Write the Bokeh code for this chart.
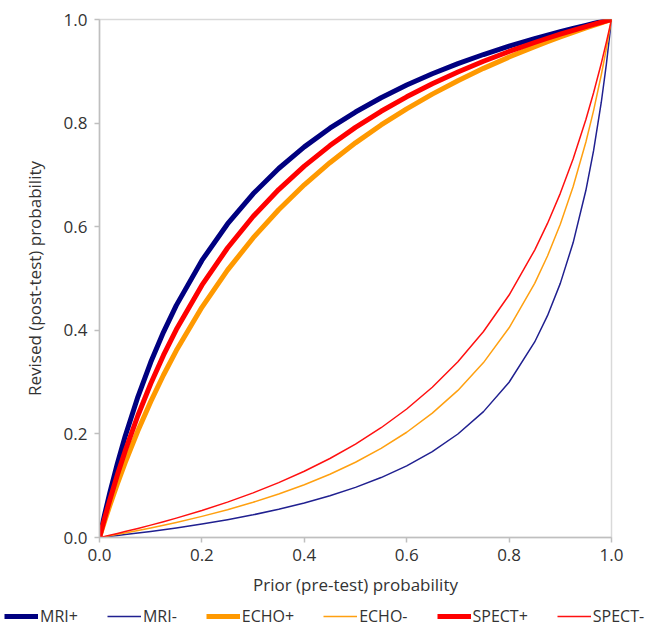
from bokeh.plotting import figure
from bokeh.layouts import column, row
from bokeh.models import Legend, LegendItem, Range1d, FixedTicker, PrintfTickFormatter
from bokeh.embed import file_html
from bokeh.resources import INLINE

# Prior (pre-test) probability
prior = [0, 0.01, 0.02, 0.035, 0.05, 0.075, 0.1, 0.125, 0.15, 0.2, 0.25, 0.3, 0.35, 0.4, 0.45, 0.5,
         0.55, 0.6, 0.65, 0.7, 0.75, 0.8, 0.85, 0.875, 0.9, 0.925, 0.95, 0.965, 0.98, 0.99, 1.0]

# Revised (post-test) probability
mri_pos = [0, 0.0444, 0.0858, 0.1430, 0.1949, 0.2717, 0.3382, 0.3966, 0.4481, 0.5349, 0.6053, 0.6635, 0.7124, 0.7541, 0.7901, 0.8214,
           0.8490, 0.8734, 0.8952, 0.9148, 0.9324, 0.9485, 0.9631, 0.9699, 0.9764, 0.9827, 0.9887, 0.9922, 0.9956, 0.9978, 1.0]
mri_neg = [0, 0.0011, 0.0022, 0.0039, 0.0056, 0.0086, 0.0117, 0.0151, 0.0185, 0.0261, 0.0344, 0.0438, 0.0545, 0.0666, 0.0805, 0.0967,
           0.1157, 0.1383, 0.1658, 0.1998, 0.2430, 0.2997, 0.3775, 0.4282, 0.4906, 0.5689, 0.6703, 0.7468, 0.8398, 0.9137, 1.0]
echo_pos = [0, 0.0313, 0.0613, 0.1040, 0.1441, 0.2060, 0.2623, 0.3137, 0.3609, 0.4444, 0.5161, 0.5783, 0.6328, 0.6809, 0.7236, 0.7619,
            0.7964, 0.8276, 0.8560, 0.8819, 0.9057, 0.9275, 0.9477, 0.9573, 0.9664, 0.9753, 0.9838, 0.9888, 0.9937, 0.9969, 1.0]
echo_neg = [0, 0.0017, 0.0035, 0.0061, 0.0089, 0.0136, 0.0185, 0.0237, 0.0291, 0.0408, 0.0536, 0.0679, 0.0839, 0.1018, 0.1221, 0.1453,
            0.1720, 0.2032, 0.2400, 0.2840, 0.3377, 0.4048, 0.4907, 0.5434, 0.6047, 0.6771, 0.7636, 0.8242, 0.8928, 0.9439, 1.0]
spect_pos = [0, 0.0370, 0.0720, 0.1211, 0.1667, 0.2355, 0.2969, 0.3519, 0.4014, 0.4872, 0.5588, 0.6196, 0.6717, 0.7170, 0.7566, 0.7917,
             0.8228, 0.8507, 0.8759, 0.8986, 0.9194, 0.9383, 0.9556, 0.9638, 0.9716, 0.9791, 0.9863, 0.9905, 0.9947, 0.9973, 1.0]
spect_neg = [0, 0.0022, 0.0045, 0.0079, 0.0114, 0.0175, 0.0239, 0.0305, 0.0374, 0.0521, 0.0683, 0.0862, 0.1059, 0.1279, 0.1525, 0.1803,
             0.2119, 0.2481, 0.2901, 0.3392, 0.3976, 0.4681, 0.5549, 0.6063, 0.6644, 0.7307, 0.8069, 0.8585, 0.9151, 0.9561, 1.0]

series_names = ["MRI+", "MRI-", "ECHO+", "ECHO-", "SPECT+", "SPECT-"]
series_values = [mri_pos, mri_neg, echo_pos, echo_neg, spect_pos, spect_neg]
tick_values = [0.0, 0.2, 0.4, 0.6, 0.8, 1.0]

colors = ["#000080", "#202090", "#FF9900", "#FFA010", "#FF0000", "#FF1010"]
widths = [5, 1.5, 5, 1.5, 5, 1.5]

FONT = "Open Sans"
TXT = "#333333"

p = figure(width=645, height=604, output_backend="svg", toolbar_location=None,
           x_range=Range1d(0, 1), y_range=Range1d(0, 1),
           min_border_left=99, min_border_right=34, min_border_top=19, min_border_bottom=67)

p.outline_line_color = "#d9d9d9"
p.outline_line_width = 1.5
p.xgrid.visible = False
p.ygrid.visible = False
p.background_fill_color = "white"
p.border_fill_color = "white"

for name, vals, c, w in zip(series_names, series_values, colors, widths):
    p.line(prior, vals, line_color=c, line_width=w, line_join="round", line_cap="round")

for ax in (p.xaxis[0], p.yaxis[0]):
    ax.ticker = FixedTicker(ticks=tick_values)
    ax.formatter = PrintfTickFormatter(format="%.1f")
    ax.axis_line_color = "#bfbfbf"
    ax.axis_line_width = 1.5
    ax.major_tick_line_color = "#bfbfbf"
    ax.major_tick_line_width = 1.5
    ax.major_tick_out = 5
    ax.major_tick_in = 0
    ax.minor_tick_line_color = None
    ax.major_label_text_font = FONT
    ax.major_label_text_font_size = "17px"
    ax.major_label_text_color = TXT
    ax.axis_label_text_font = FONT
    ax.axis_label_text_font_size = "17px"
    ax.axis_label_text_font_style = "normal"
    ax.axis_label_text_color = TXT

p.xaxis.axis_label = "Prior (pre-test) probability"
p.yaxis.axis_label = "Revised (post-test) probability"
p.xaxis.major_label_standoff = 6
p.yaxis.major_label_standoff = 7
p.xaxis.axis_label_standoff = 9
p.yaxis.axis_label_standoff = 15

# legend strip below the chart (its own small figure; sample lines lie outside its view)
lg = figure(width=645, height=24, output_backend="svg", toolbar_location=None,
            x_range=Range1d(0, 1), y_range=Range1d(0, 1),
            x_axis_location=None, y_axis_location=None, min_border=0)
lg.outline_line_color = None
lg.xgrid.visible = False
lg.ygrid.visible = False
lg.background_fill_color = "white"
items = []
for name, vals, c, w in zip(series_names, series_values, colors, widths):
    r = lg.line(prior, [v - 5 for v in vals], line_color=c, line_width=w)
    items.append(LegendItem(label=name, renderers=[r]))
legend = Legend(items=items, orientation="horizontal", location=(4, 1),
                glyph_width=34, glyph_height=16, label_standoff=2, spacing=29,
                padding=0, margin=0, border_line_color=None,
                label_text_font=FONT, label_text_font_size="16px", label_text_color=TXT,
                background_fill_alpha=0)
lg.add_layout(legend)

layout = column(p, row(lg), spacing=0)
open("out.html", "w").write(file_html(layout, INLINE))
